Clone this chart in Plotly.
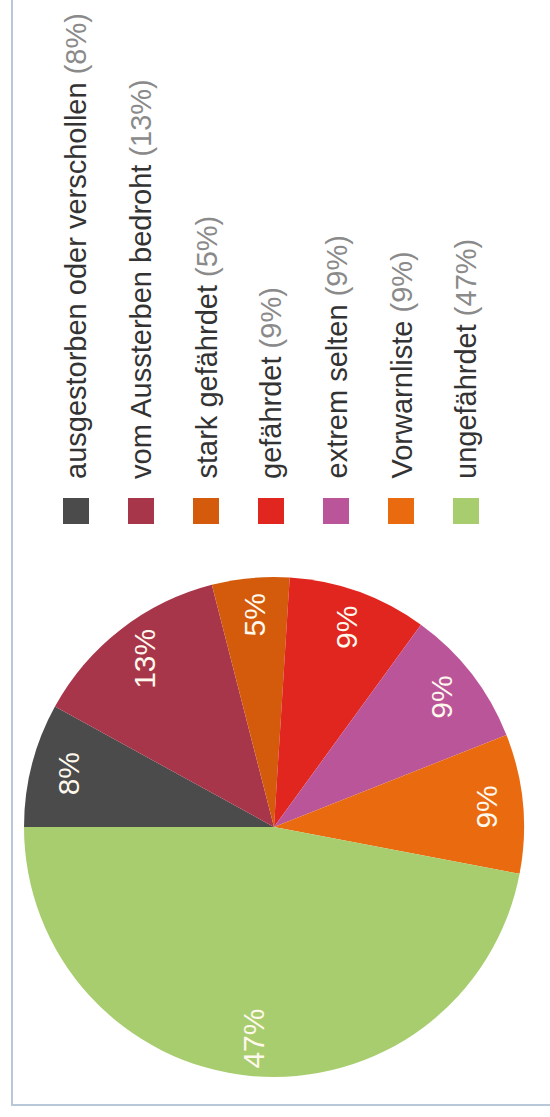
import math
import plotly.graph_objects as go

categories = ["ausgestorben oder verschollen", "vom Aussterben bedroht", "stark gefährdet",
              "gefährdet", "extrem selten", "Vorwarnliste", "ungefährdet"]
values = [8, 13, 5, 9, 9, 9, 47]
colors = ["#4b4b4b", "#a8364a", "#d45b0c", "#e0261e", "#bb559a", "#ea6a10", "#a8cd6e"]

W, H = 550, 1117
CX, CY, R = 274, 827, 250          # pie centre / radius in px
LEG_X0, LEG_DX, LEG_Y = 76, 65, 511  # legend layout in px
FONT = "Liberation Sans, Arial, sans-serif"

fig = go.Figure()

# pie
fig.add_trace(go.Pie(
    labels=categories, values=values, sort=False, direction="clockwise",
    rotation=-90, marker=dict(colors=colors, line=dict(width=0)),
    textinfo="none", hoverinfo="skip", showlegend=False,
    domain=dict(x=[(CX - R) / W, (CX + R) / W],
                y=[(H - CY - R) / H, (H - CY + R) / H]),
))

# legend squares
fig.add_trace(go.Scatter(
    x=[LEG_X0 + LEG_DX * i for i in range(len(categories))],
    y=[LEG_Y] * len(categories), mode="markers",
    marker=dict(symbol="square", size=26, color=colors, line=dict(width=0)),
    hoverinfo="skip", showlegend=False,
))

annotations = []
total = sum(values)
cum = 0
for v in values:
    theta = math.radians((cum + v / 2) / total * 360)
    r = 0.85 * R
    annotations.append(dict(
        x=CX - r * math.cos(theta), y=CY - r * math.sin(theta), xref="x", yref="y",
        text=f"{round(v / total * 100)}%", showarrow=False, textangle=-90,
        xanchor="center", yanchor="middle",
        font=dict(family=FONT, size=30, color="#fff8ec"),
    ))
    cum += v

for i, (c, v) in enumerate(zip(categories, values)):
    annotations.append(dict(
        x=LEG_X0 + LEG_DX * i, y=LEG_Y - 30, xref="x", yref="y",
        text=f"{c} <span style='color:#8a8a8a'>({round(v / total * 100)}%)</span>",
        showarrow=False, textangle=-90, xanchor="center", yanchor="bottom",
        font=dict(family=FONT, size=29, color="#333333"),
    ))

fig.update_layout(
    width=W, height=H, margin=dict(l=0, r=0, t=0, b=0),
    paper_bgcolor="white", plot_bgcolor="white",
    xaxis=dict(range=[0, W], visible=False, fixedrange=True, domain=[0, 1]),
    yaxis=dict(range=[H, 0], visible=False, fixedrange=True, domain=[0, 1]),
    annotations=annotations,
    shapes=[dict(type="rect", xref="x", yref="y", x0=12, x1=W + 20, y0=-20, y1=1105,
                 line=dict(color="#b8c8d8", width=2), fillcolor="rgba(0,0,0,0)", layer="below")],
)

fig.write_html("out.html")
